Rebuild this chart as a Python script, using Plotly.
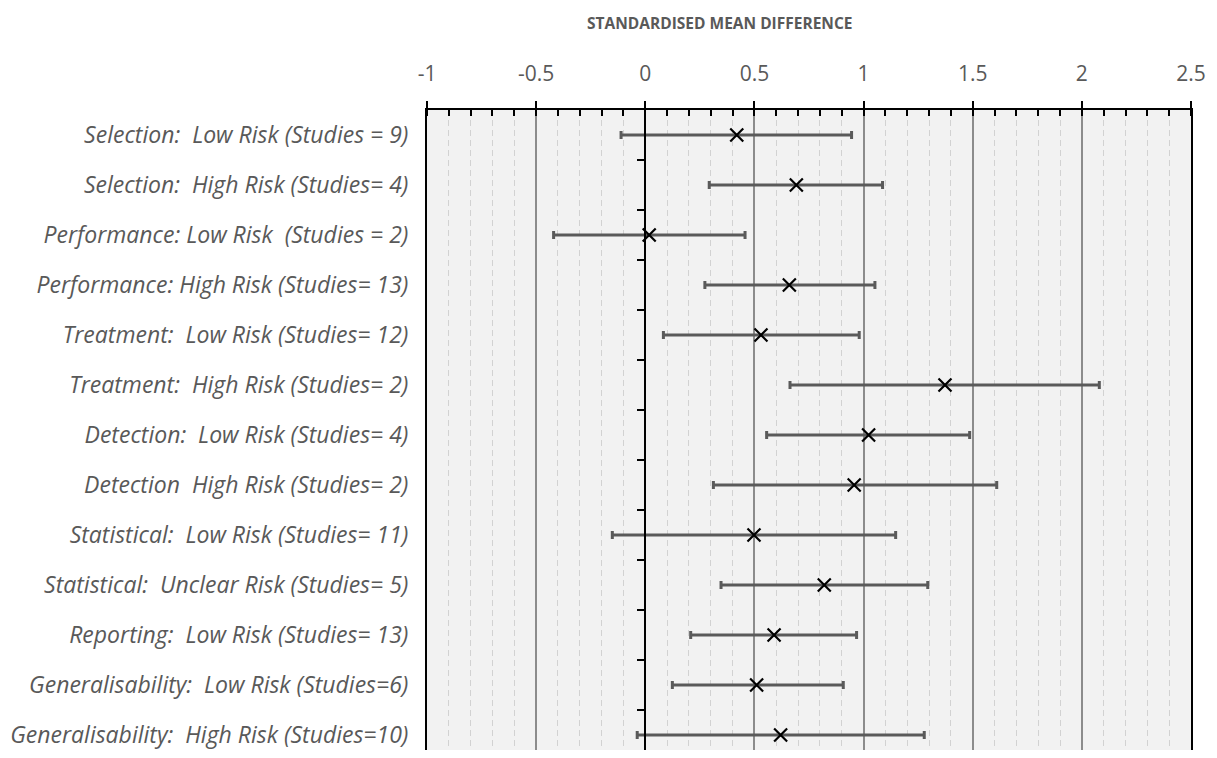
import plotly.graph_objects as go

categories = [
    "Selection:  Low Risk (Studies = 9)",
    "Selection:  High Risk (Studies= 4)",
    "Performance: Low Risk  (Studies = 2)",
    "Performance: High Risk (Studies= 13)",
    "Treatment:  Low Risk (Studies= 12)",
    "Treatment:  High Risk (Studies= 2)",
    "Detection:  Low Risk (Studies= 4)",
    "Detection  High Risk (Studies= 2)",
    "Statistical:  Low Risk (Studies= 11)",
    "Statistical:  Unclear Risk (Studies= 5)",
    "Reporting:  Low Risk (Studies= 13)",
    "Generalisability:  Low Risk (Studies=6)",
    "Generalisability:  High Risk (Studies=10)",
]
smd = [0.419, 0.692, 0.018, 0.66, 0.53, 1.373, 1.023, 0.957, 0.498, 0.82, 0.59, 0.51, 0.62]
ci_lower = [-0.111, 0.293, -0.42, 0.273, 0.083, 0.663, 0.556, 0.312, -0.151, 0.347, 0.208, 0.124, -0.037]
ci_upper = [0.945, 1.087, 0.457, 1.052, 0.98, 2.08, 1.486, 1.61, 1.147, 1.294, 0.968, 0.907, 1.278]
x_ticks = [-1, -0.5, 0, 0.5, 1, 1.5, 2, 2.5]
x_tick_labels = ["-1", "-0.5", "0", "0.5", "1", "1.5", "2", "2.5"]
x_title = "STANDARDISED MEAN DIFFERENCE"

idx = list(range(len(categories)))
err_plus = [u - m for u, m in zip(ci_upper, smd)]
err_minus = [m - l for m, l in zip(smd, ci_lower)]

grey_text = "#595959"
FONT = "Open Sans, Lato, sans-serif"

# page body has an 8px margin; compensate so the plot area lands where intended
W, H = 1201, 742
L, R, T, B = 419, 18, 102, 0
plot_h = H - T - B
yrange = [-0.5 + plot_h / 50.0, -0.5]

fig = go.Figure()
fig.add_trace(go.Scatter(
    x=smd, y=idx, mode="markers",
    marker=dict(symbol="x-thin", size=13, color="black", line=dict(color="black", width=2.2)),
    error_x=dict(type="data", symmetric=False, array=err_plus, arrayminus=err_minus,
                 color="#5a5a5a", thickness=3, width=4),
    hoverinfo="x+y", showlegend=False,
))
# invisible companion trace so the crossing axis at x=0 is drawn
fig.add_trace(go.Scatter(
    x=smd, y=idx, yaxis="y2", mode="markers",
    marker=dict(opacity=0), hoverinfo="skip", showlegend=False,
))

fig.update_layout(
    width=W, height=H,
    margin=dict(l=L, r=R, t=T, b=B),
    paper_bgcolor="white",
    plot_bgcolor="#f2f2f2",
    font=dict(family=FONT, color=grey_text),
    xaxis=dict(
        side="top", range=[-1, 2.5],
        tickvals=x_ticks, ticktext=x_tick_labels,
        ticks="outside", ticklen=7, tickwidth=2, tickcolor="black",
        tickfont=dict(size=21, color=grey_text, family=FONT),
        ticklabelstandoff=12,
        showline=True, linecolor="black", linewidth=2, mirror=False,
        showgrid=True, gridcolor="#8c8c8c", gridwidth=1.5,
        zeroline=True, zerolinecolor="black", zerolinewidth=2,
        minor=dict(dtick=0.1, tick0=-1, ticks="inside", ticklen=6, tickwidth=1.5,
                   tickcolor="black", showgrid=True, gridcolor="#d2d2d2",
                   griddash="6px,4px", gridwidth=1),
    ),
    yaxis=dict(
        range=yrange, tickvals=idx, ticktext=categories,
        tickfont=dict(size=23, color=grey_text, family=FONT, style="italic"),
        ticks="", ticklabelstandoff=12, ticklabeloverflow="allow",
        showline=True, linecolor="black", linewidth=2, mirror=True,
        showgrid=False, zeroline=False,
    ),
    yaxis2=dict(
        overlaying="y", anchor="free", position=1 / 3.5, side="left",
        range=yrange, tickvals=[i + 0.5 for i in idx[:-1]],
        ticks="outside", ticklen=7, tickwidth=2, tickcolor="black",
        showticklabels=False, showline=True, linecolor="black", linewidth=2,
        showgrid=False, zeroline=False,
    ),
    annotations=[dict(
        text="<b>" + x_title + "</b>", xref="paper", yref="paper",
        x=(720 - 427) / 764, y=1 + (110 - 23) / plot_h, xanchor="center", yanchor="middle",
        showarrow=False, font=dict(size=15.5, color=grey_text, family=FONT),
    )],
)

fig.write_html("out.html")
